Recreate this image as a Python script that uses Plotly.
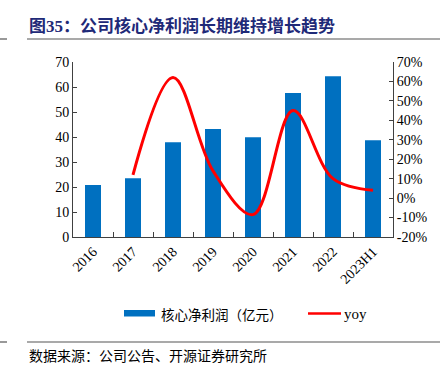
import plotly.graph_objects as go

categories = ["2016", "2017", "2018", "2019", "2020", "2021", "2022", "2023H1"]
core_profit = [20.8, 23.5, 37.9, 43.2, 39.9, 57.6, 64.3, 38.7]
yoy = [None, 12, 62, 14, -8.5, 45, 10, 4]
left_ticks = [0, 10, 20, 30, 40, 50, 60, 70]
right_ticks = [-20, -10, 0, 10, 20, 30, 40, 50, 60, 70]

W, H = 447, 376
def px(x):
    return x / W
def py(y):
    return 1 - y / H

serif = "Liberation Serif, Times New Roman, serif"
cjk = "Noto Sans CJK SC, serif"

fig = go.Figure()
fig.add_trace(go.Bar(x=categories, y=core_profit, marker=dict(color="#0070C0", line=dict(width=0)),
                     name="核心净利润（亿元）", yaxis="y", showlegend=False))
fig.add_trace(go.Scatter(x=categories, y=[v / 100 if v is not None else None for v in yoy],
                         mode="lines", line=dict(color="#FF0000", width=3, shape="spline", smoothing=1.0),
                         name="yoy", yaxis="y2", showlegend=False, connectgaps=False))

fig.update_layout(
    width=W, height=H,
    margin=dict(l=0, r=0, t=0, b=0, autoexpand=False),
    paper_bgcolor="white", plot_bgcolor="white",
    bargap=0.6,
    xaxis=dict(domain=[px(73), px(393)], showgrid=False, showline=True, linecolor="#404040", linewidth=1,
               ticks="inside", tickson="boundaries", ticklen=5, tickcolor="#404040", automargin=False,
               tickangle=-45, tickfont=dict(family=serif, size=14, color="black")),
    yaxis=dict(domain=[py(237), py(62)], range=[0, 70], tickvals=left_ticks, showgrid=False,
               showline=True, linecolor="#404040", linewidth=1, ticks="inside", ticklen=4, automargin=False,
               tickcolor="#404040", tickfont=dict(family=serif, size=14, color="black"), zeroline=False),
    yaxis2=dict(overlaying="y", side="right", range=[-0.2, 0.7], tickvals=[v / 100 for v in right_ticks],
                ticktext=[f"{v}%" for v in right_ticks], showgrid=False, showline=True, linecolor="#404040",
                linewidth=1, ticks="inside", ticklen=4, tickcolor="#404040", zeroline=False, automargin=False,
                tickfont=dict(family=serif, size=14, color="black")),
    showlegend=False,
)

shapes = []
# header and footer rules
for y in (39, 342):
    shapes.append(dict(type="line", xref="paper", yref="paper", x0=px(27), x1=px(440), y0=py(y), y1=py(y),
                       line=dict(color="#555555", width=1.2)))
    shapes.append(dict(type="line", xref="paper", yref="paper", x0=0, x1=px(7), y0=py(y), y1=py(y),
                       line=dict(color="#555555", width=1.2)))
# legend symbols
shapes.append(dict(type="rect", xref="paper", yref="paper", x0=px(124), x1=px(155), y0=py(316.5), y1=py(310),
                   fillcolor="#0070C0", line=dict(width=0)))
shapes.append(dict(type="line", xref="paper", yref="paper", x0=px(308), x1=px(341), y0=py(313.5), y1=py(313.5),
                   line=dict(color="#FF0000", width=2.5)))
fig.update_layout(shapes=shapes)

annotations = [
    dict(text="<b>图<span style='font-family:Liberation Serif'>35</span>：公司核心净利润长期维持增长趋势</b>",
         x=px(27), y=py(25), xref="paper", yref="paper",
         xanchor="left", yanchor="middle", showarrow=False,
         font=dict(family=cjk, size=17, color="#1F2A78")),
    dict(text="核心净利润（亿元）", x=px(159), y=py(313.5), xref="paper", yref="paper",
         xanchor="left", yanchor="middle", showarrow=False, font=dict(family=cjk, size=13.5, color="black")),
    dict(text="yoy", x=px(342), y=py(314), xref="paper", yref="paper",
         xanchor="left", yanchor="middle", showarrow=False, font=dict(family=serif, size=15, color="black")),
    dict(text="数据来源：公司公告、开源证券研究所", x=px(27), y=py(355), xref="paper", yref="paper",
         xanchor="left", yanchor="middle", showarrow=False, font=dict(family=cjk, size=14, color="black")),
]
fig.update_layout(annotations=annotations)

fig.write_html("out.html", config={"displayModeBar": False},
               post_script="document.body.style.margin='0';document.body.style.overflow='hidden';")
